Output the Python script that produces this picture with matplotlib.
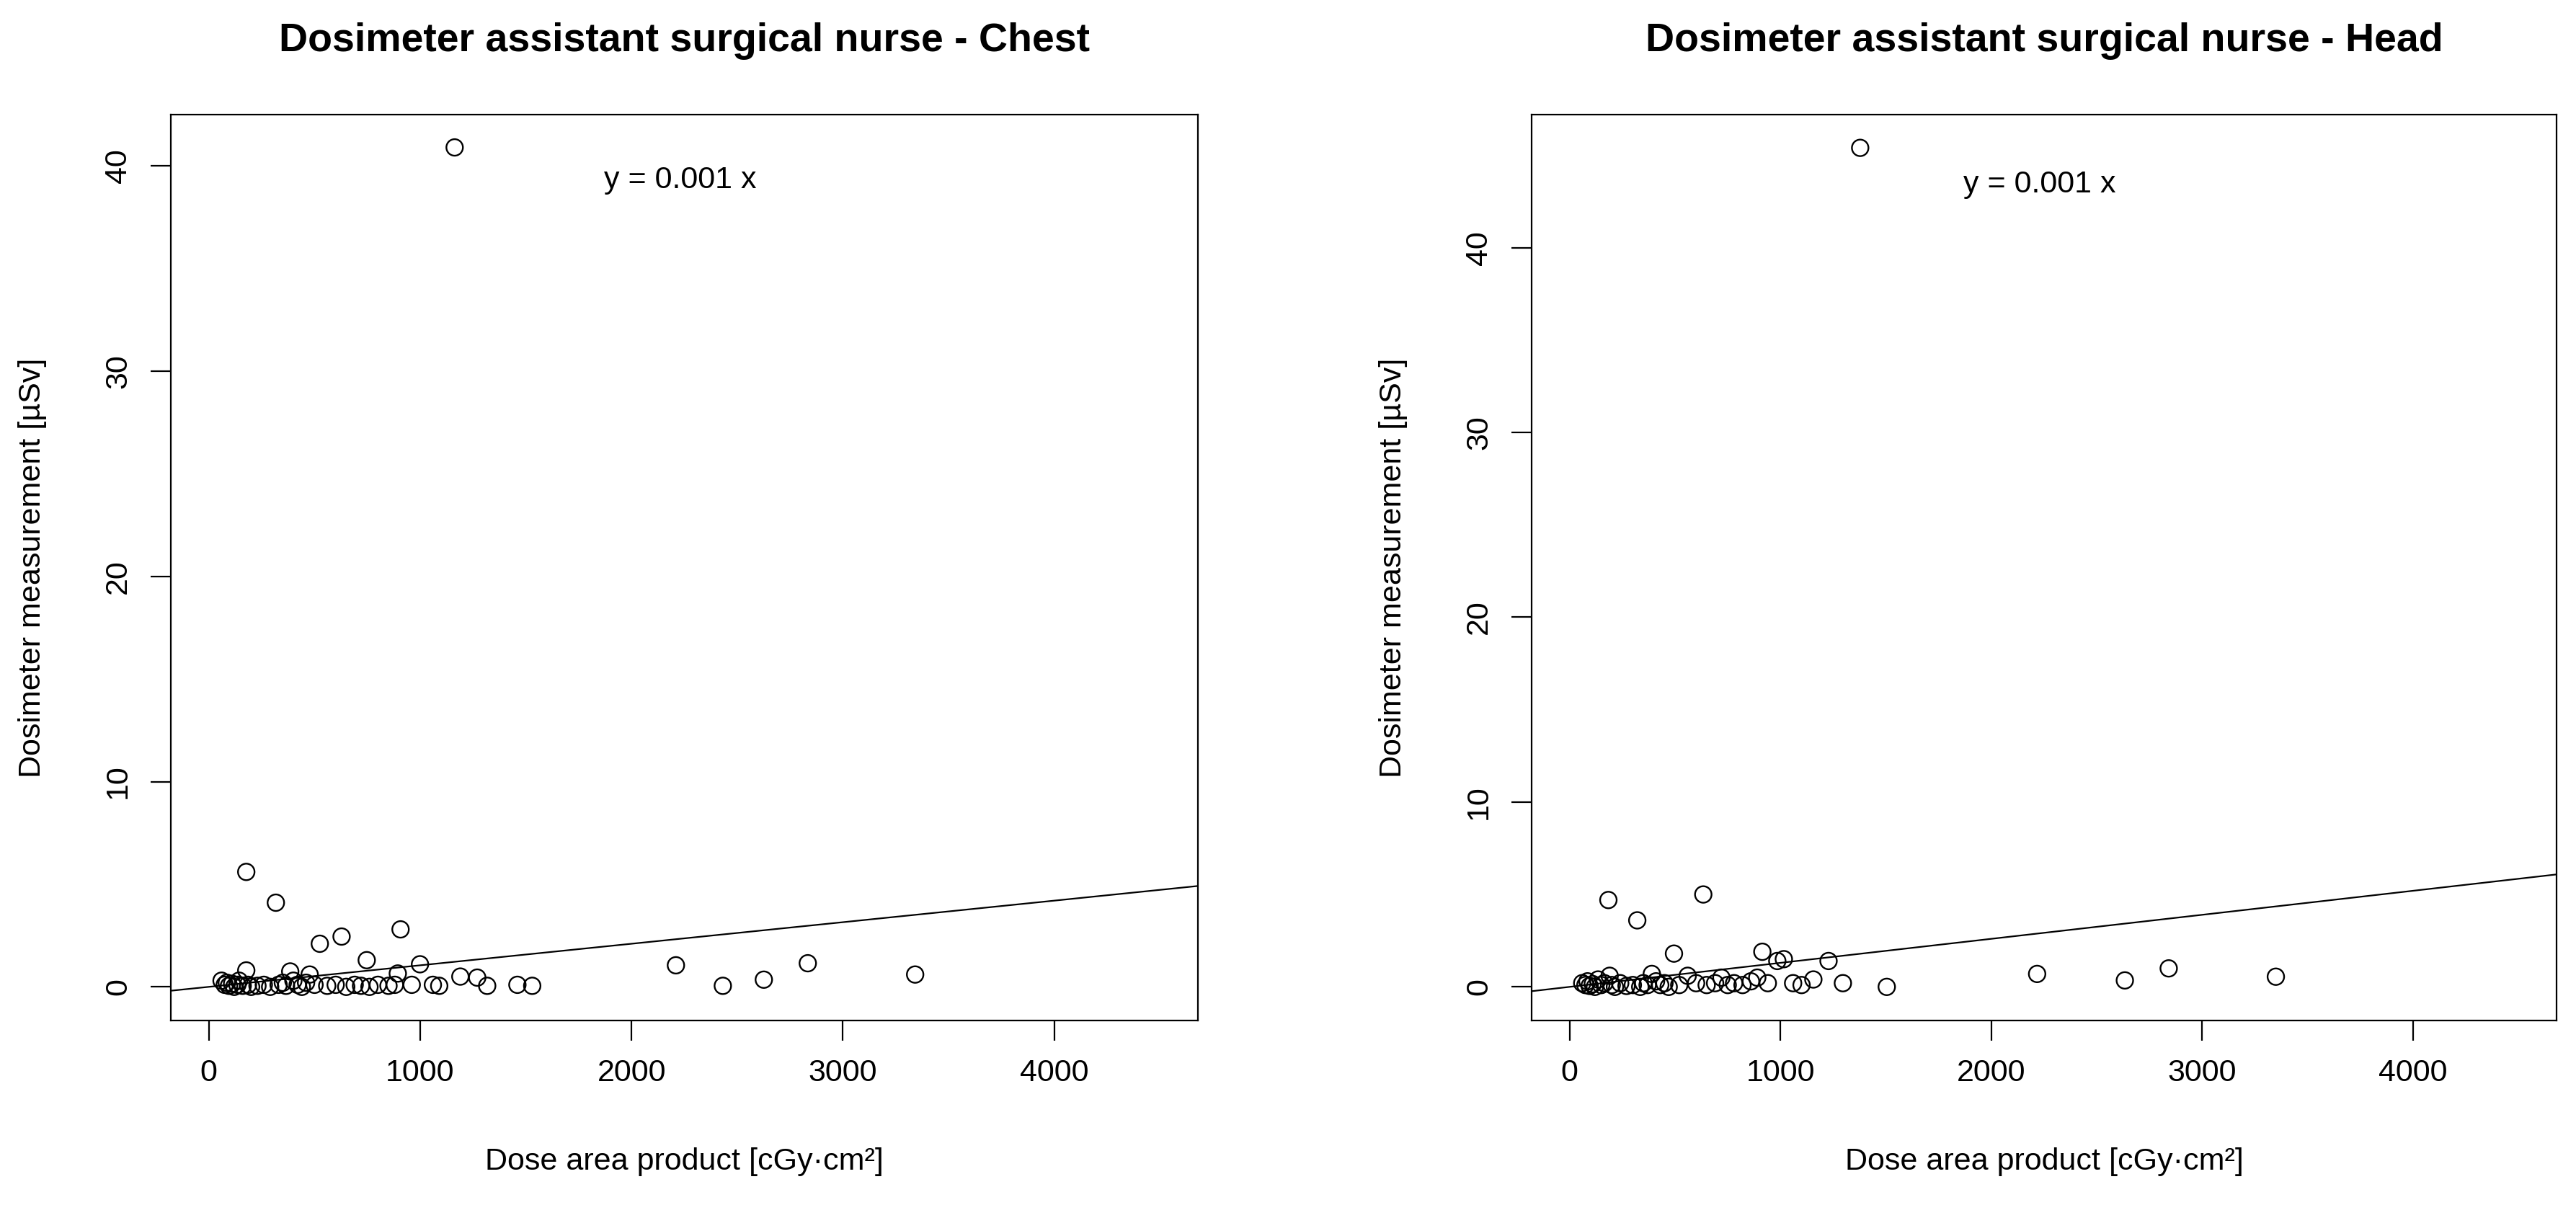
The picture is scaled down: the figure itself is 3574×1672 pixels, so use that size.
import matplotlib
matplotlib.use("Agg")
import matplotlib.pyplot as plt
import numpy as np

plt.rcParams['font.family'] = ['Liberation Sans', 'DejaVu Sans']

# ---- data ----
chest_x = [60, 75, 85, 95, 110, 120, 135, 143, 160, 177, 177, 185, 200, 230, 260, 290,
           317, 330, 350, 365, 385, 400, 420, 440, 460, 477, 500, 525, 560, 600, 628,
           650, 690, 720, 747, 760, 800, 850, 880, 894, 907, 960, 999, 1060, 1090, 1163,
           1190, 1270, 1317, 1460, 1530, 2210, 2432, 2626, 2834, 3342]
chest_y = [0.3, 0.1, 0.2, 0.05, 0.15, 0.0, 0.1, 0.3, 0.05, 5.6, 0.8, 0.1, 0.0, 0.05, 0.1, 0.0,
           4.1, 0.1, 0.2, 0.05, 0.75, 0.3, 0.1, 0.0, 0.2, 0.6, 0.1, 2.1, 0.05, 0.1, 2.45,
           0.0, 0.1, 0.05, 1.3, 0.0, 0.1, 0.05, 0.1, 0.65, 2.8, 0.1, 1.1, 0.1, 0.05, 40.9,
           0.5, 0.45, 0.05, 0.1, 0.05, 1.05, 0.05, 0.35, 1.15, 0.6]

head_x = [60, 75, 85, 95, 110, 120, 135, 150, 165, 184, 190, 200, 215, 240, 270, 300,
          321, 335, 350, 370, 390, 410, 430, 450, 470, 495, 520, 560, 600, 634, 650,
          690, 720, 750, 780, 820, 860, 890, 914, 940, 985, 1016, 1060, 1100, 1156, 1228,
          1296, 1378, 1504, 2217, 2633, 2841, 3349]
head_y = [0.2, 0.1, 0.3, 0.05, 0.15, 0.0, 0.4, 0.1, 0.2, 4.7, 0.6, 0.1, 0.0, 0.2, 0.05, 0.1,
          3.6, 0.0, 0.2, 0.1, 0.7, 0.3, 0.1, 0.2, 0.0, 1.8, 0.1, 0.6, 0.2, 5.0, 0.1,
          0.2, 0.5, 0.1, 0.2, 0.1, 0.3, 0.5, 1.9, 0.2, 1.4, 1.5, 0.2, 0.1, 0.4, 1.4,
          0.2, 45.4, 0.0, 0.7, 0.35, 1.0, 0.55]

chest_slope = 0.00105
head_slope = 0.0013
fit_label = "y = 0.001 x"
titles = ["Dosimeter assistant surgical nurse - Chest",
          "Dosimeter assistant surgical nurse - Head"]
xlabel = "Dose area product [cGy\u00b7cm\u00b2]"
ylabel = "Dosimeter measurement [\u00b5Sv]"
xticks = [0, 1000, 2000, 3000, 4000]
yticks = [0, 10, 20, 30, 40]

W, H = 3574, 1672
fig = plt.figure(figsize=(W / 100, H / 100), dpi=100)

panels = [
    (chest_x, chest_y, chest_slope, titles[0], (237, 1662), (-1.64, 42.5), 39.3),
    (head_x, head_y, head_slope, titles[1], (2125, 3547), (-1.82, 47.2), 43.4),
]
top_px, bot_px = 159, 1416
for xs, ys, slope, title, (l, r), ylim, ty in panels:
    ax = fig.add_axes([l / W, 1 - bot_px / H, (r - l) / W, (bot_px - top_px) / H])
    ax.scatter(xs, ys, s=16.5 ** 2, facecolors='none', edgecolors='black', linewidths=1.7, zorder=3)
    ax.set_xlim(-180, 4680)
    ax.set_ylim(*ylim)
    ax.axline((0, 0), slope=slope, color='black', lw=1.6)
    ax.text(2230, ty, fit_label, fontsize=31, ha='center', va='center')
    ax.set_xticks(xticks)
    ax.set_yticks(yticks)
    ax.set_yticklabels([str(t) for t in yticks], rotation=90, va='center')
    ax.tick_params(direction='out', length=20, width=1.6, labelsize=31, pad=18)
    for sp in ax.spines.values():
        sp.set_linewidth(1.6)
    ax.set_xlabel(xlabel, fontsize=31, va='center')
    ax.set_ylabel(ylabel, fontsize=31, va='center')
    ax.xaxis.set_label_coords(0.5, -(1612 - bot_px) / (bot_px - top_px))
    ax.yaxis.set_label_coords(-(l - 45 - (0 if l < 1000 else 1888 - 0)) / (r - l) if False else -(192) / (r - l), 0.5)
    fig.text((l + r) / 2 / W, 1 - 57 / H, title, fontsize=40, fontweight='bold',
             ha='center', va='center')

fig.savefig("out.png", dpi=100)
